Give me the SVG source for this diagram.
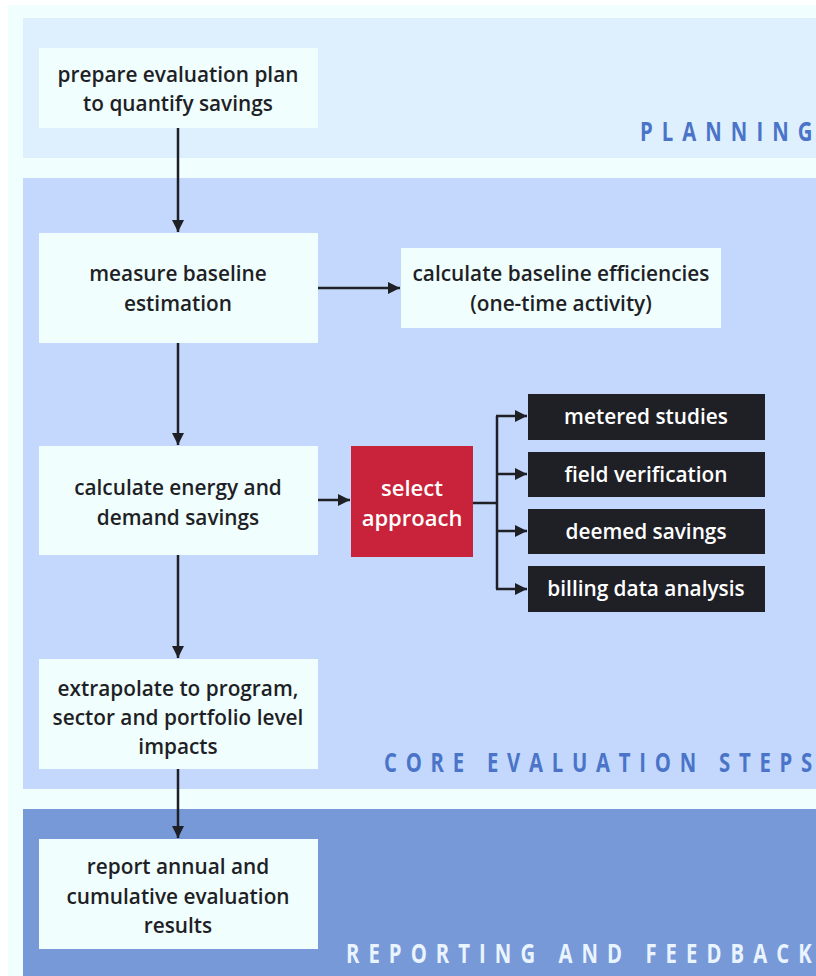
<svg xmlns="http://www.w3.org/2000/svg" width="816" height="976" viewBox="0 0 816 976">
<style>
.node{fill:#F0FEFE}
.t{font-family:"Open Sans","Noto Sans",sans-serif;font-weight:600;font-size:20.8px;fill:#1F1F26;text-anchor:middle}
.w{fill:#FFFFFF}
.dark{fill:#1F1F26}
.band{font-family:"Open Sans","Noto Sans",sans-serif;font-weight:700;font-size:26px}
.c{stroke:#1F1F26;stroke-width:2.5;fill:none}
</style>
<defs>
<marker id="ah" viewBox="0 0 10 10" refX="10" refY="5" markerWidth="5" markerHeight="5" orient="auto" markerUnits="strokeWidth">
<path d="M0,0 L10,5 L0,10 z" fill="#1F1F26"/>
</marker>
</defs>
<rect x="0" y="0" width="816" height="976" fill="#FFFFFF"/>
<rect x="8" y="5" width="808" height="971" fill="#F0FEFE"/>
<g id="band-planning">
<rect x="23" y="18" width="793" height="140" fill="#DEEFFE"/>
<g transform="translate(640,141) scale(0.78,1)"><text class="band" x="0" y="0" fill="#4A74C8" textLength="221" lengthAdjust="spacing">PLANNING</text></g>
</g>
<g id="band-core">
<rect x="23" y="178" width="793" height="611" fill="#C3D8FC"/>
<g transform="translate(384,772) scale(0.78,1)"><text class="band" x="0" y="0" fill="#4A74C8" textLength="549" lengthAdjust="spacing">CORE EVALUATION STEPS</text></g>
</g>
<g id="band-reporting">
<rect x="23" y="809" width="793" height="167" fill="#7799D8"/>
<g transform="translate(346,963) scale(0.78,1)"><text class="band" x="0" y="0" fill="#EAF4FF" textLength="597" lengthAdjust="spacing">REPORTING AND FEEDBACK</text></g>
</g>
<g id="connectors">
<line class="c" x1="178" y1="128" x2="178" y2="232" marker-end="url(#ah)"/>
<line class="c" x1="178" y1="343" x2="178" y2="445" marker-end="url(#ah)"/>
<line class="c" x1="178" y1="555" x2="178" y2="658" marker-end="url(#ah)"/>
<line class="c" x1="178" y1="769" x2="178" y2="838" marker-end="url(#ah)"/>
<line class="c" x1="318" y1="288" x2="400" y2="288" marker-end="url(#ah)"/>
<line class="c" x1="318" y1="500" x2="350" y2="500" marker-end="url(#ah)"/>
<polyline class="c" points="473,503 497,503"/>
<line class="c" x1="497" y1="416" x2="497" y2="589"/>
<line class="c" x1="496" y1="416" x2="527" y2="416" marker-end="url(#ah)"/>
<line class="c" x1="496" y1="474" x2="527" y2="474" marker-end="url(#ah)"/>
<line class="c" x1="496" y1="531" x2="527" y2="531" marker-end="url(#ah)"/>
<line class="c" x1="496" y1="589" x2="527" y2="589" marker-end="url(#ah)"/>
</g>
<g id="prepare">
<rect class="node" x="39" y="48" width="279" height="80"/>
<text class="t" x="178" y="82">prepare evaluation plan</text>
<text class="t" x="178" y="111">to quantify savings</text>
</g>
<g id="measure">
<rect class="node" x="39" y="233" width="279" height="110"/>
<text class="t" x="178" y="281">measure baseline</text>
<text class="t" x="178" y="311">estimation</text>
</g>
<g id="baseline-eff">
<rect class="node" x="401" y="248" width="320" height="80"/>
<text class="t" x="561" y="281">calculate baseline efficiencies</text>
<text class="t" x="561" y="311">(one-time activity)</text>
</g>
<g id="energy">
<rect class="node" x="39" y="446" width="279" height="109"/>
<text class="t" x="178" y="495">calculate energy and</text>
<text class="t" x="178" y="525">demand savings</text>
</g>
<g id="select">
<rect x="351" y="446" width="122" height="111" fill="#C8233A"/>
<text class="t w" x="412" y="496" style="font-size:22px">select</text>
<text class="t w" x="412" y="526" style="font-size:22px">approach</text>
</g>
<g id="metered">
<rect class="dark" x="528" y="394" width="237" height="46"/>
<text class="t w" x="646" y="424">metered studies</text>
</g>
<g id="field">
<rect class="dark" x="528" y="452" width="237" height="45"/>
<text class="t w" x="646" y="482">field verification</text>
</g>
<g id="deemed">
<rect class="dark" x="528" y="509" width="237" height="45"/>
<text class="t w" x="646" y="539">deemed savings</text>
</g>
<g id="billing">
<rect class="dark" x="528" y="566" width="237" height="46"/>
<text class="t w" x="646" y="596">billing data analysis</text>
</g>
<g id="extrapolate">
<rect class="node" x="39" y="659" width="279" height="110"/>
<text class="t" x="178" y="696">extrapolate to program,</text>
<text class="t" x="178" y="725">sector and portfolio level</text>
<text class="t" x="178" y="754">impacts</text>
</g>
<g id="report">
<rect class="node" x="39" y="839" width="279" height="110"/>
<text class="t" x="178" y="874">report annual and</text>
<text class="t" x="178" y="904">cumulative evaluation</text>
<text class="t" x="178" y="933">results</text>
</g>
</svg>
